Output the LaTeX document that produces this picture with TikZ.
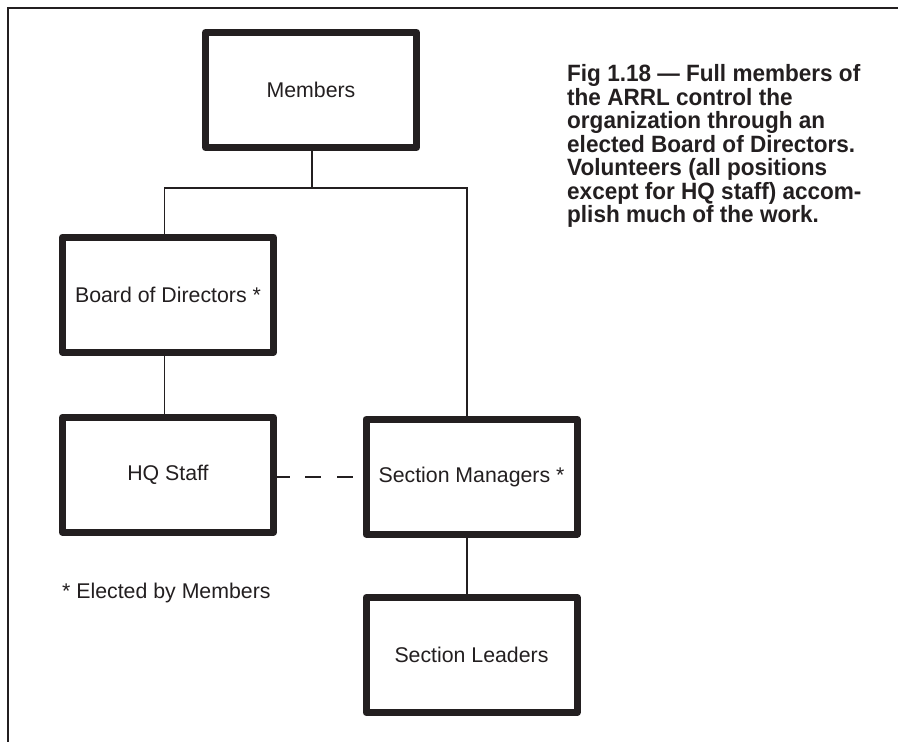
\documentclass[tikz,border=0pt]{standalone}
\usepackage{fontspec}
\setmainfont{Liberation Sans}
\newfontfamily\capfont[FakeStretch=0.955]{Liberation Sans Bold}
\definecolor{ink}{HTML}{231F20}
\begin{document}
\begin{tikzpicture}[x=1pt,y=-1pt,
  box/.style={draw=ink, line width=7pt, line join=round, minimum width=211pt,
    minimum height=115pt, inner sep=0pt, font=\fontsize{21.3}{25}\selectfont, text=ink},
  conn/.style={draw=ink, line width=1.6pt},
  frameline/.style={draw=ink, line width=2pt},
  capline/.style={anchor=base west, inner sep=0pt, text=ink,
    font=\capfont\fontsize{23.6}{23.4}\selectfont},
  note/.style={anchor=west, inner sep=0pt, text=ink, font=\fontsize{21.3}{25}\selectfont}]
\useasboundingbox (0,0) rectangle (898,742);
\fill[white] (0,0) rectangle (898,742);
% frame
\draw[frameline] (898,8) -- (8,8) -- (8,742);
% boxes
\node[box] (members) at (311,90) {Members};
\node[box] (board) at (168,294.7) {Board of Directors *};
\node[box] (hq) at (168,474.8) {HQ Staff};
\node[box] (sm) at (471.5,476.7) {Section Managers *};
\node[box] (sl) at (471.5,655) {Section Leaders};
% junction coordinates
\coordinate (jm) at (312,188);
\coordinate (jl) at (164.5,188);
\coordinate (jr) at (467,188);
% connectors
\draw[conn] (members.south -| jm) -- (jm);
\draw[conn] (board.north -| jl) -- (jl) -- (jr) -- (sm.north -| jr);
\draw[conn] (board.south -| jl) -- (hq.north -| jl);
\draw[conn] (sm.south -| jr) -- (sl.north -| jr);
\draw[conn, dash pattern=on 13pt off 15pt on 16pt off 16pt on 16pt off 20pt]
  (hq.east |- sm.west) -- (sm.west);
% footnote
\node[note] (elected) at (62,593) {* Elected by Members};
% caption
\node[capline] (cap1) at (567,81.7) {Fig 1.18 — Full members of};
\node[capline] (cap2) at (567,105) {the ARRL control the};
\node[capline] (cap3) at (567,128.7) {organization through an};
\node[capline] (cap4) at (567,152.2) {elected Board of Directors.};
\node[capline] (cap5) at (567,175.6) {Volunteers (all positions};
\node[capline] (cap6) at (567,199) {except for HQ staff) accom-};
\node[capline] (cap7) at (567,222.3) {plish much of the work.};
\end{tikzpicture}
\end{document}
